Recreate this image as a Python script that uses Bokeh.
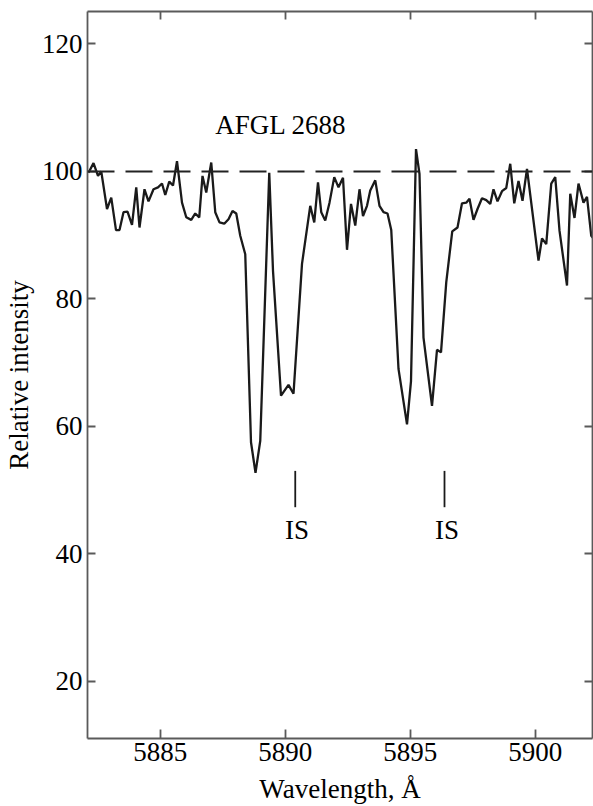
from bokeh.plotting import figure
from bokeh.models import LinearAxis, FixedTicker, Range1d, Span
from bokeh.core.properties import value
from bokeh.embed import file_html
from bokeh.resources import INLINE

# --- data ---
wavelength = [
    5882.13, 5882.33, 5882.51, 5882.64, 5882.87, 5883.04, 5883.23, 5883.37, 5883.53, 5883.69,
    5883.87, 5884.04, 5884.17, 5884.37, 5884.53, 5884.73, 5884.91, 5885.07, 5885.20, 5885.36,
    5885.51, 5885.67, 5885.87, 5886.04, 5886.24, 5886.40, 5886.56, 5886.69, 5886.84, 5887.04,
    5887.20, 5887.37, 5887.56, 5887.73, 5887.89, 5888.04, 5888.20, 5888.40, 5888.63, 5888.81,
    5889.00, 5889.36, 5889.51, 5889.83, 5890.13, 5890.33, 5890.67, 5891.00, 5891.16, 5891.31,
    5891.44, 5891.60, 5891.77, 5891.96, 5892.13, 5892.31, 5892.47, 5892.63, 5892.80, 5892.97,
    5893.11, 5893.27, 5893.40, 5893.60, 5893.77, 5893.93, 5894.09, 5894.24, 5894.53, 5894.87,
    5895.03, 5895.23, 5895.37, 5895.53, 5895.87, 5896.07, 5896.23, 5896.44, 5896.68, 5896.89,
    5897.07, 5897.24, 5897.37, 5897.53, 5897.69, 5897.87, 5898.04, 5898.20, 5898.33, 5898.49,
    5898.67, 5898.84, 5899.00, 5899.16, 5899.33, 5899.49, 5899.67, 5900.13, 5900.27, 5900.44,
    5900.64, 5900.80, 5900.97, 5901.27, 5901.40, 5901.57, 5901.73, 5901.93, 5902.07, 5902.24,
    5902.32,
]
intensity = [
    99.8, 101.3, 99.3, 100.0, 94.1, 95.9, 90.8, 90.8, 93.6, 93.7,
    91.6, 97.5, 91.2, 97.2, 95.3, 97.2, 97.5, 98.1, 96.3, 98.4,
    97.8, 101.6, 95.1, 92.8, 92.4, 93.4, 92.8, 99.3, 96.7, 101.4,
    93.6, 92.0, 91.8, 92.5, 93.8, 93.4, 89.9, 87.0, 57.5, 52.7,
    57.7, 99.8, 84.4, 64.8, 66.5, 65.1, 85.5, 94.6, 92.0, 98.3,
    93.6, 92.3, 95.1, 99.1, 97.5, 99.0, 87.7, 94.9, 91.5, 97.2,
    93.0, 94.6, 97.0, 98.6, 94.6, 93.6, 93.4, 90.8, 69.0, 60.3,
    67.1, 103.5, 99.6, 73.9, 63.2, 72.0, 71.6, 82.6, 90.6, 91.2,
    95.0, 95.1, 95.7, 92.4, 94.1, 95.8, 95.5, 94.9, 97.2, 95.3,
    96.9, 97.4, 101.2, 95.0, 98.5, 95.4, 100.4, 86.0, 89.5, 88.6,
    98.1, 99.1, 90.7, 82.1, 96.5, 92.7, 98.1, 95.1, 96.0, 89.9,
    89.5,
]
x_ticks = [5885, 5890, 5895, 5900]
y_ticks = [20, 40, 60, 80, 100, 120]
continuum_level = 100
is_wavelengths = [5890.40, 5896.37]
is_label_wavelengths = [5890.47, 5896.47]
is_mark_bottom = [47.3, 47.3]
is_mark_top = [53.0, 53.0]
is_label_y = [43.7, 43.7]
is_labels = ["IS", "IS"]
object_name = "AFGL 2688"
object_x = 5887.2
object_y = 107.3

FONT = "Liberation Serif"
FS = "27px"
AXIS_COLOR = "#5a5a5a"

p = figure(
    width=593, height=806,
    x_range=Range1d(5882.09, 5902.29),
    y_range=Range1d(11.0, 125.1),
    output_backend="svg", toolbar_location=None,
    min_border_left=87, min_border_right=1, min_border_top=11, min_border_bottom=68,
    x_axis_label="Wavelength, Å", y_axis_label="Relative intensity",
)
p.outline_line_color = None
p.xgrid.visible = False
p.ygrid.visible = False
p.background_fill_color = "white"
p.border_fill_color = "white"

for ax in (p.xaxis[0], p.yaxis[0]):
    ax.axis_line_color = AXIS_COLOR
    ax.axis_line_width = 1.8
    ax.major_tick_line_color = AXIS_COLOR
    ax.major_tick_line_width = 1.8
    ax.minor_tick_line_color = None
    ax.major_tick_out = 0
    ax.major_label_text_font = FONT
    ax.major_label_text_font_size = FS
    ax.major_label_text_color = "black"
    ax.axis_label_text_font = FONT
    ax.axis_label_text_font_size = FS
    ax.axis_label_text_font_style = "normal"
    ax.axis_label_text_color = "black"

p.xaxis[0].ticker = FixedTicker(ticks=x_ticks)
p.xaxis[0].major_tick_in = 9
p.xaxis[0].major_label_standoff = 4
p.xaxis[0].axis_label_standoff = 10
p.yaxis[0].ticker = FixedTicker(ticks=y_ticks)
p.yaxis[0].major_tick_in = 8
p.yaxis[0].major_label_standoff = 5
p.yaxis[0].axis_label_standoff = 5

def frame_axis(ticks):
    a = LinearAxis(ticker=FixedTicker(ticks=ticks))
    a.axis_line_color = AXIS_COLOR
    a.axis_line_width = 1.8
    a.major_tick_line_color = AXIS_COLOR
    a.major_tick_line_width = 1.8
    a.minor_tick_line_color = None
    a.major_tick_out = 0
    a.major_tick_in = 8
    a.major_label_overrides = {t: "" for t in ticks}
    a.major_label_text_font_size = "1px"
    a.major_label_standoff = 0
    a.axis_label_standoff = 0
    return a

p.add_layout(frame_axis(x_ticks), "above")
p.add_layout(frame_axis(y_ticks), "right")

p.add_layout(Span(location=continuum_level, dimension="width",
                  line_color="#222222", line_width=2, line_dash="27 11"))

p.line(wavelength, intensity, line_color="#1a1a1a", line_width=2.3)

p.segment(x0=is_wavelengths, y0=is_mark_bottom, x1=is_wavelengths, y1=is_mark_top,
          line_color="#1a1a1a", line_width=1.8)
p.text(x=is_label_wavelengths, y=is_label_y, text=is_labels,
       text_font=value(FONT), text_font_size=FS, text_align="center",
       text_baseline="alphabetic", text_color="black")
p.text(x=[object_x], y=[object_y], text=[object_name],
       text_font=value(FONT), text_font_size=FS, text_align="left",
       text_baseline="alphabetic", text_color="black")

open("out.html", "w").write(file_html(p, INLINE))
